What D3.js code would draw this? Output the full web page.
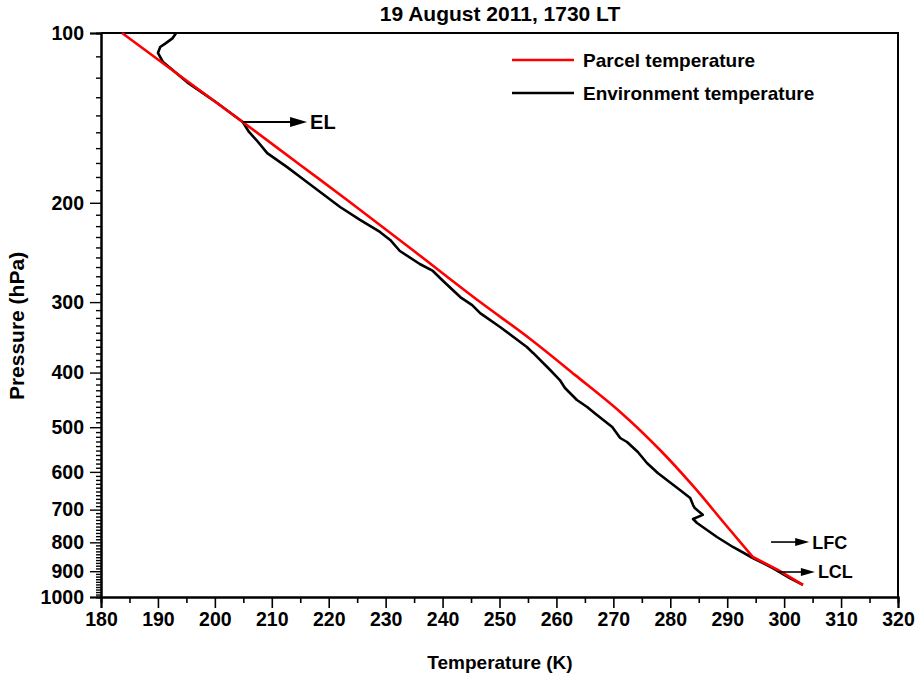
<!DOCTYPE html>
<html>
<head>
<meta charset="utf-8">
<script src="https://cdn.jsdelivr.net/npm/d3@7"></script>
<style>
  html, body { margin: 0; padding: 0; background: #fff; }
  svg { display: block; font-family: "Liberation Sans", Arial, Helvetica, sans-serif; font-weight: bold; }
</style>
</head>
<body>
<svg id="chart" width="917" height="676"></svg>
<script>
// Parcel temperature profile (K) against pressure (hPa)
const parcelP = [100, 120.2, 143.8, 171.4, 199.3, 244.5, 299.9, 348.8, 404.2, 469.9, 548.8, 635.5, 742.3, 849.4, 895.5, 952];
const parcelT = [183.7, 194.4, 204.9, 215.0, 223.7, 235.2, 246.6, 255.4, 263.3, 271.2, 278.2, 284.0, 289.6, 294.5, 298.9, 303.3];
// Pressure where the parcel leaves the dry adiabat (moist ascent above)
const parcelKinkP = 849.4;

// Environment (sounding) temperature profile
const envP = [100, 102.1, 104.2, 105.9, 108.5, 112.6, 117.3, 122.2, 127.8, 133.1, 139.2, 143.8, 149.8, 154.8, 163.3,
  172.9, 180.0, 191.4, 203.5, 214.5, 225.3, 232.8, 243.5, 256.8, 264.2, 275.2, 293.9, 303.7, 313.8, 332.1,
  360.3, 369.2, 395.9, 412.4, 426, 447.4, 460.3, 473.6, 499.5, 522.5, 531.1, 553.3, 578.7, 602.8, 620.3,
  646, 667.5, 687, 695.6, 715, 727.3, 739.3, 782.8, 815.3, 852.8, 888.5, 925.5, 952];
const envT = [193.2, 192.6, 191.4, 190.4, 190.0, 190.9, 193.0, 195.1, 197.9, 200.4, 203.0, 204.9, 206.0, 207.3, 209.2,
  212.7, 215.0, 218.5, 222.0, 225.5, 229.0, 230.8, 232.5, 236.0, 238.3, 240.1, 243.1, 245.2, 246.6, 250.1,
  254.8, 255.9, 258.9, 260.6, 261.5, 263.6, 265.4, 266.9, 269.8, 271.2, 272.4, 274.3, 275.9, 277.8, 279.4,
  281.7, 283.5, 284.0, 284.3, 285.7, 284.0, 284.7, 288.2, 291.0, 294.5, 298.0, 301.0, 303.3];

// Level annotations: label, pressure, arrow start / end temperature
const levelNames = ["EL", "LFC", "LCL"];
const levelP = [143.8, 799, 903];
const levelT0 = [204.9, 297.7, 298.9];
const levelT1 = [216.2, 304.4, 305.4];

// Axis ticks
const xTicks = d3.range(180, 321, 10);
const xMinor = d3.range(185, 320, 10);
const yTicks = d3.range(100, 1001, 100);
const yMinor = d3.range(110, 1000, 10).filter(v => v % 100 !== 0);

const seriesNames = ["Parcel temperature", "Environment temperature"];
const seriesColors = ["#ff0000", "#000000"];

const svg = d3.select("#chart");
const plotL = 101, plotR = 898, plotT = 33, plotB = 597;

const x = d3.scaleLinear().domain([180, 320]).range([plotL, plotR]);
const y = d3.scaleLog().domain([100, 1000]).range([plotT, plotB]);

// Title
svg.append("text")
  .attr("x", 500).attr("y", 21)
  .attr("text-anchor", "middle")
  .attr("font-size", 21)
  .text("19 August 2011, 1730 LT");

// Plot frame (top and right edges)
svg.append("path")
  .attr("d", `M${plotL},${plotT}H${plotR}V${plotB}`)
  .attr("fill", "none").attr("stroke", "#000").attr("stroke-width", 2);

// X axis
const gx = svg.append("g").attr("transform", `translate(0,${plotB})`);
gx.call(d3.axisBottom(x).tickValues(xMinor).tickSize(6).tickFormat(""));
gx.append("g").call(d3.axisBottom(x).tickValues(xTicks).tickSize(11).tickPadding(4).tickFormat(d3.format("d")));
gx.selectAll(".domain").attr("stroke-width", 2);
gx.selectAll(".tick line").attr("stroke-width", 1.6);
gx.selectAll("text").attr("font-size", 19.5).attr("font-family", null).attr("font-weight", "bold");

// Y axis (log pressure)
const gy = svg.append("g").attr("transform", `translate(${plotL},0)`);
gy.call(d3.axisLeft(y).tickValues(yMinor).tickSize(5).tickFormat(""));
gy.append("g").call(d3.axisLeft(y).tickValues(yTicks).tickSize(11).tickPadding(6).tickFormat(d3.format("d")));
gy.selectAll(".domain").attr("stroke-width", 2);
gy.selectAll(".tick line").attr("stroke-width", 1.4);
gy.selectAll("text").attr("font-size", 19.5).attr("font-family", null).attr("font-weight", "bold");

// Axis titles
svg.append("text")
  .attr("x", 500).attr("y", 669)
  .attr("text-anchor", "middle")
  .attr("font-size", 19)
  .text("Temperature (K)");

svg.append("text")
  .attr("transform", "translate(24,326) rotate(-90)")
  .attr("text-anchor", "middle")
  .attr("font-size", 21)
  .text("Pressure (hPa)");

// Profiles
const envData = envT.map((t, i) => [t, envP[i]]);
const parcelData = parcelT.map((t, i) => [t, parcelP[i]]);
const kinkIdx = parcelP.indexOf(parcelKinkP);
const moistPart = parcelData.slice(0, kinkIdx + 1);
const dryPart = parcelData.slice(kinkIdx);

const envLine = d3.line().x(d => x(d[0])).y(d => y(d[1]));
const moistLine = d3.line().x(d => x(d[0])).y(d => y(d[1])).curve(d3.curveMonotoneY);

svg.append("path")
  .attr("d", envLine(envData))
  .attr("fill", "none").attr("stroke", seriesColors[1])
  .attr("stroke-width", 2.6).attr("stroke-linejoin", "round");

svg.append("path")
  .attr("d", moistLine(moistPart) + envLine(dryPart).replace(/^M/, "L"))
  .attr("fill", "none").attr("stroke", seriesColors[0])
  .attr("stroke-width", 2.6).attr("stroke-linejoin", "round");

// Legend
const legendY = [60, 93];
seriesNames.forEach((name, i) => {
  svg.append("line")
    .attr("x1", 512).attr("x2", 574)
    .attr("y1", legendY[i]).attr("y2", legendY[i])
    .attr("stroke", seriesColors[i]).attr("stroke-width", 2.6);
  svg.append("text")
    .attr("x", 583).attr("y", legendY[i])
    .attr("dy", "0.35em")
    .attr("font-size", 19)
    .text(name);
});

// Level arrows and labels
levelNames.forEach((name, i) => {
  const yy = y(levelP[i]);
  const x0 = x(levelT0[i]), x1 = x(levelT1[i]);
  const big = i === 0;
  const hl = big ? 17 : 14, hw = big ? 5 : 4;
  svg.append("line")
    .attr("x1", x0).attr("x2", x1 - hl + 2)
    .attr("y1", yy).attr("y2", yy)
    .attr("stroke", "#000").attr("stroke-width", big ? 2 : 1.6);
  svg.append("path")
    .attr("d", `M${x1},${yy}L${x1 - hl},${yy - hw}L${x1 - hl},${yy + hw}Z`)
    .attr("fill", "#000");
  svg.append("text")
    .attr("x", x1 + 3).attr("y", yy)
    .attr("dy", "0.36em")
    .attr("font-size", big ? 20 : 18)
    .text(name);
});
</script>
</body>
</html>
